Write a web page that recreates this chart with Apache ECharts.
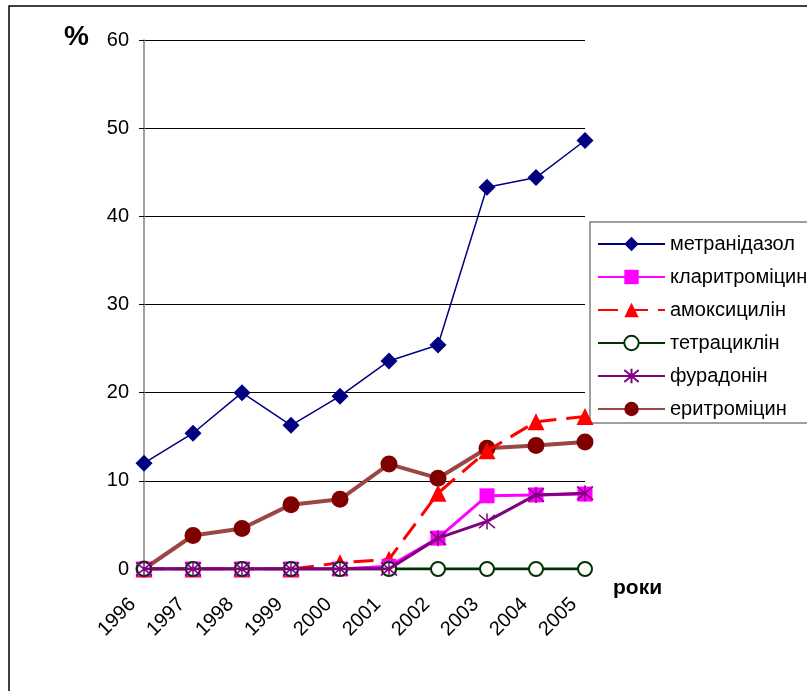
<!DOCTYPE html>
<html>
<head>
<meta charset="utf-8">
<script src="https://cdn.jsdelivr.net/npm/echarts@6/dist/echarts.min.js"></script>
<style>
html,body{margin:0;padding:0;background:#fff;}
#chart{width:807px;height:691px;}
</style>
</head>
<body>
<div id="chart"></div>
<script>
// Years on the category axis
const years = ['1996','1997','1998','1999','2000','2001','2002','2003','2004','2005'];
// Resistance rates, %
const metronidazole = [12.0, 15.4, 20.0, 16.3, 19.6, 23.6, 25.4, 43.3, 44.4, 48.6];
const clarithromycin = [0, 0, 0, 0, 0, 0.3, 3.5, 8.3, 8.4, 8.5];
const amoxicillin = [0, 0, 0, 0, 0.7, 1.1, 8.6, 13.4, 16.7, 17.3];
const tetracycline = [0, 0, 0, 0, 0, 0, 0, 0, 0, 0];
const furadonin = [0, 0, 0, 0, 0, 0, 3.5, 5.4, 8.4, 8.6];
const erythromycin = [0, 3.8, 4.6, 7.3, 7.9, 11.9, 10.3, 13.7, 14.0, 14.4];
const yTicks = [0, 10, 20, 30, 40, 50, 60];

const FONT = '"Liberation Sans", Arial, sans-serif';
const asterisk = 'path://M0,0L10,10M10,0L0,10M5,-1L5,11';

const chart = echarts.init(document.getElementById('chart'), null, {renderer: 'canvas'});
chart.setOption({
  animation: false,
  backgroundColor: '#fff',
  textStyle: {fontFamily: FONT},
  grid: {left: 144, right: 222, top: 40, bottom: 122, containLabel: false},
  graphic: [
    {type: 'rect', shape: {x: 9, y: 6, width: 900, height: 800}, style: {fill: 'none', stroke: '#000', lineWidth: 1.5}, z: -1},
    {type: 'rect', shape: {x: 590, y: 222, width: 240, height: 201}, style: {fill: '#fff', stroke: '#808080', lineWidth: 1.5}, z: 0},
    {type: 'text', left: 64, top: 23, style: {text: '%', font: 'bold 28px ' + FONT, fill: '#000'}},
    {type: 'text', left: 613, top: 578, style: {text: 'роки', font: 'bold 21px ' + FONT, fill: '#000'}}
  ],
  legend: {
    orient: 'vertical',
    left: 592,
    top: 229,
    itemWidth: 67,
    itemHeight: 18,
    itemGap: 13,
    textStyle: {fontSize: 20, color: '#000', fontFamily: FONT},
    data: ['метранідазол', 'кларитроміцин', 'амоксицилін', 'тетрациклін', 'фурадонін', 'еритроміцин'],
    z: 5
  },
  xAxis: {
    type: 'category',
    data: years,
    boundaryGap: false,
    axisLine: {show: false},
    axisTick: {show: false},
    axisLabel: {rotate: 45, fontSize: 20, color: '#000', margin: 21, padding: [0, 16, 0, 0], fontFamily: FONT},
    splitLine: {show: false}
  },
  yAxis: {
    type: 'value',
    min: yTicks[0],
    max: yTicks[yTicks.length - 1],
    interval: 10,
    axisLine: {show: true, lineStyle: {color: '#808080', width: 1.5}},
    axisTick: {show: true, length: 5, lineStyle: {color: '#000'}},
    axisLabel: {fontSize: 20, color: '#000', margin: 15, fontFamily: FONT},
    splitLine: {show: true, lineStyle: {color: '#000', width: 1}}
  },
  series: [
    {
      name: 'метранідазол', type: 'line', data: metronidazole,
      symbol: 'diamond', symbolSize: 17,
      lineStyle: {color: '#000080', width: 1.5},
      itemStyle: {color: '#000080'}, z: 8
    },
    {
      name: 'еритроміцин', type: 'line', data: erythromycin,
      symbol: 'circle', symbolSize: 17,
      lineStyle: {color: '#9c4545', width: 4},
      itemStyle: {color: '#800000'}, z: 3
    },
    {
      name: 'амоксицилін', type: 'line', data: amoxicillin,
      symbol: 'triangle', symbolSize: 17,
      lineStyle: {color: '#ff0000', width: 3, type: [20, 10]},
      itemStyle: {color: '#ff0000'}, z: 4
    },
    {
      name: 'кларитроміцин', type: 'line', data: clarithromycin,
      symbol: 'rect', symbolSize: 15,
      lineStyle: {color: '#ff00ff', width: 3},
      itemStyle: {color: '#ff00ff'}, z: 5
    },
    {
      name: 'тетрациклін', type: 'line', data: tetracycline,
      symbol: 'emptyCircle', symbolSize: 14,
      lineStyle: {color: '#003300', width: 3},
      itemStyle: {color: '#003300', borderColor: '#003300', borderWidth: 1.5}, z: 6
    },
    {
      name: 'фурадонін', type: 'line', data: furadonin,
      symbol: asterisk, symbolSize: 16,
      lineStyle: {color: '#800080', width: 3},
      itemStyle: {color: 'transparent', borderColor: '#800080', borderWidth: 1.5}, z: 7
    }
  ]
});
</script>
</body>
</html>
